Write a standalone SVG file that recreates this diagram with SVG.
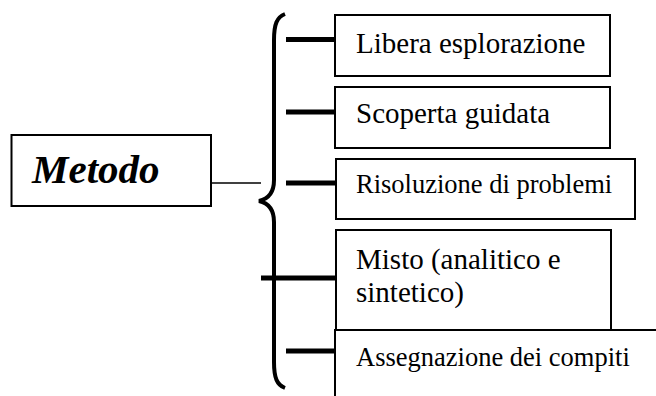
<svg xmlns="http://www.w3.org/2000/svg" width="656" height="396" viewBox="0 0 656 396">
<style>
.box{fill:#fff;stroke:#000;stroke-width:2}
.t{font-family:"Liberation Serif","Times New Roman",serif;fill:#000}
.bar{stroke:#000;stroke-width:5;fill:none}
</style>
<rect width="656" height="396" fill="#fff"/>
<g id="connectors">
<line x1="211" y1="183" x2="261" y2="183" stroke="#000" stroke-width="1.3"/>
<path d="M285 14 C277 17 274 24 274 40 L274 180 C274 193 268 199 259 201 C268 203 274 209 274 222 L274 362 C274 378 277 385 285 388" fill="none" stroke="#000" stroke-width="4"/>
<line class="bar" x1="286" y1="39.5" x2="335" y2="39.5"/>
<line class="bar" x1="286" y1="112" x2="335" y2="112"/>
<line class="bar" x1="286" y1="183" x2="335" y2="183"/>
<line class="bar" x1="261" y1="278" x2="335" y2="278"/>
<line class="bar" x1="286" y1="351" x2="335" y2="351"/>
</g>
<g id="metodo">
<rect class="box" x="11.5" y="135" width="199.5" height="71"/>
<text class="t" x="32" y="183" font-size="41" font-weight="bold" font-style="italic">Metodo</text>
</g>
<g id="libera">
<rect class="box" x="335" y="15" width="275" height="61"/>
<text class="t" x="356" y="53" font-size="29">Libera esplorazione</text>
</g>
<g id="scoperta">
<rect class="box" x="335" y="87" width="275" height="61"/>
<text class="t" x="356" y="123" font-size="29">Scoperta guidata</text>
</g>
<g id="risoluzione">
<rect class="box" x="336" y="159" width="299" height="60"/>
<text class="t" x="356" y="193" font-size="26.5">Risoluzione di problemi</text>
</g>
<g id="misto">
<rect class="box" x="336" y="230" width="275" height="100"/>
<text class="t" x="356" y="269" font-size="29">Misto (analitico e</text>
<text class="t" x="356" y="302" font-size="29">sintetico)</text>
</g>
<g id="assegnazione">
<rect class="box" x="335" y="330" width="340" height="80"/>
<text class="t" x="356" y="366" font-size="26.5">Assegnazione dei compiti</text>
</g>
</svg>
